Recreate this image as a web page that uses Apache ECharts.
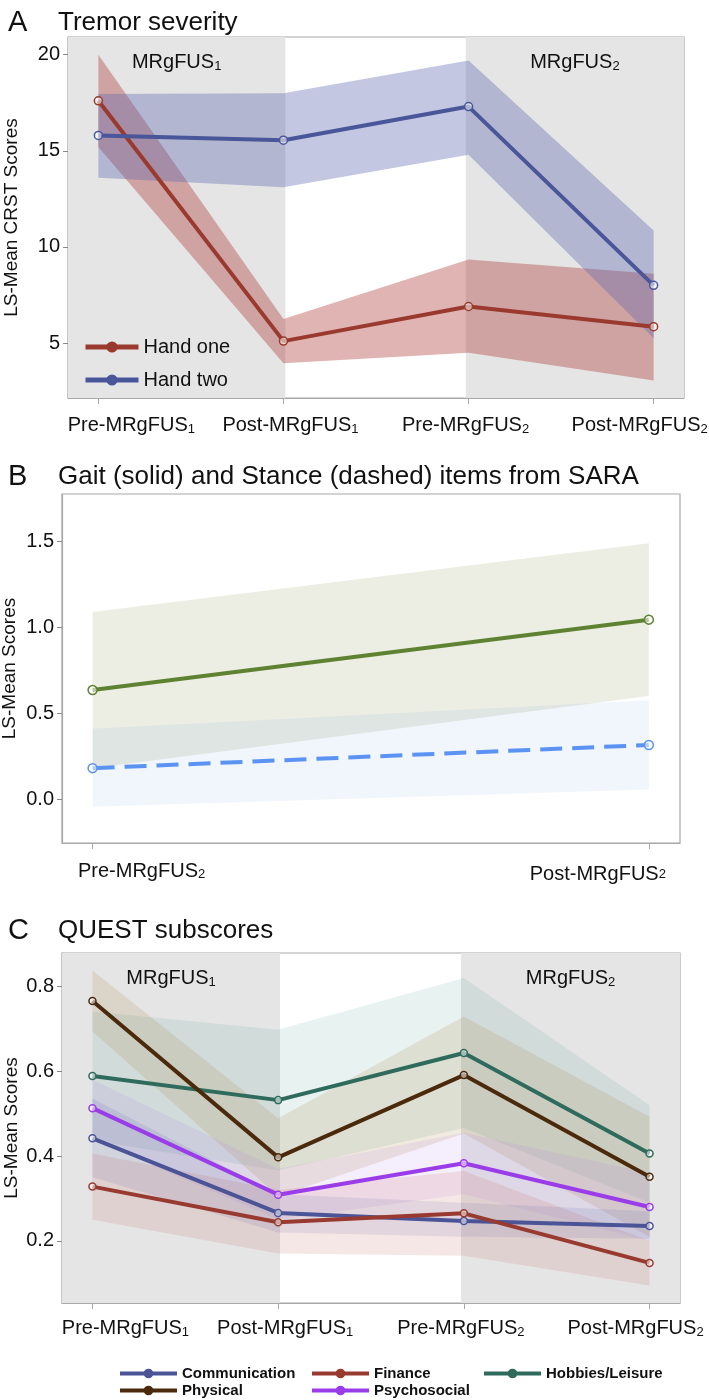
<!DOCTYPE html>
<html>
<head>
<meta charset="utf-8">
<script src="https://cdn.jsdelivr.net/npm/echarts@6/dist/echarts.min.js"></script>
<style>
  html, body { margin: 0; padding: 0; background: #fff; }
  #root { width: 709px; height: 1400px; }
</style>
</head>
<body>
<div id="root"></div>
<script>
// ---- panel A: tremor severity (CRST) ----
const visitsA = ["Pre-MRgFUS", "Post-MRgFUS", "Pre-MRgFUS", "Post-MRgFUS"];
const visitSubsA = ["1", "1", "2", "2"];
const xA = [0, 1, 2, 3];
const handOne = [17.6, 5.1, 6.9, 5.85];
const handOneLo = [15.2, 3.95, 4.5, 3.05];
const handOneHi = [20.0, 6.25, 9.35, 8.6];
const handTwo = [15.8, 15.55, 17.3, 8.0];
const handTwoLo = [13.6, 13.1, 14.8, 5.25];
const handTwoHi = [17.95, 18.0, 19.7, 10.85];
const ticksA = [5, 10, 15, 20];

// ---- panel B: SARA gait / stance ----
const visitsB = ["Pre-MRgFUS", "Post-MRgFUS"];
const visitSubsB = ["2", "2"];
const xB = [0, 1];
const gait = [0.635, 1.045];
const gaitLo = [0.18, 0.6];
const gaitHi = [1.09, 1.49];
const stance = [0.18, 0.315];
const stanceLo = [-0.045, 0.055];
const stanceHi = [0.41, 0.575];
const ticksB = [0, 0.5, 1.0, 1.5];

// ---- panel C: QUEST subscores ----
const comm = [0.442, 0.266, 0.247, 0.235];
const commLo = [0.35, 0.22, 0.21, 0.205];
const commHi = [0.536, 0.31, 0.29, 0.27];
const fin = [0.328, 0.244, 0.265, 0.148];
const finLo = [0.25, 0.17, 0.165, 0.095];
const finHi = [0.406, 0.32, 0.365, 0.2];
const hob = [0.589, 0.532, 0.643, 0.406];
const hobLo = [0.437, 0.366, 0.466, 0.29];
const hobHi = [0.741, 0.698, 0.82, 0.52];
const phys = [0.766, 0.397, 0.591, 0.351];
const physLo = [0.694, 0.305, 0.453, 0.21];
const physHi = [0.838, 0.489, 0.729, 0.493];
const psy = [0.513, 0.309, 0.383, 0.28];
const psyLo = [0.44, 0.25, 0.31, 0.2];
const psyHi = [0.58, 0.37, 0.455, 0.36];
const ticksC = [0.2, 0.4, 0.6, 0.8];

const FONT = "Liberation Sans, Arial, sans-serif";
const INK = "#111";
const BOX = "#a8a8a8";
const SHADE = "#e5e5e5";

const chart = echarts.init(document.getElementById("root"));

function pairs(xs, ys) {
  return xs.map((x, i) => [x, ys[i]]);
}

// confidence band: one polygon through the axis scales
function band(ax, xs, lo, hi, color) {
  return {
    type: "custom", xAxisIndex: ax, yAxisIndex: ax, silent: true, z: 2,
    data: xs.map((x, i) => [x, lo[i], hi[i]]),
    encode: { x: 0, y: [1, 2] },
    renderItem: (params, api) => {
      if (params.dataIndex !== 0) return;
      const top = xs.map((x, i) => api.coord([x, hi[i]]));
      const bot = xs.map((x, i) => api.coord([x, lo[i]])).reverse();
      return { type: "polygon", shape: { points: top.concat(bot) }, style: { fill: color } };
    }
  };
}

function mean(name, ax, xs, ys, color, size, extra) {
  return Object.assign({
    name: name, type: "line", xAxisIndex: ax, yAxisIndex: ax,
    data: pairs(xs, ys), symbol: "circle", symbolSize: size || 8,
    lineStyle: { color: color, width: 4 },
    itemStyle: { color: "rgba(255,255,255,0.55)", borderColor: color, borderWidth: 1.5 },
    z: 5
  }, extra || {});
}

function xAxisFor(ax, xs, bases, subs, shifts, drops, min, max, margin) {
  const rich = {};
  bases.forEach((b, i) => {
    const d = shifts[i];
    rich["b" + i] = { fontSize: 20, lineHeight: 22, color: INK, fontFamily: FONT,
      padding: [drops[i], 0, 0, d > 0 ? 2 * d : 0] };
    rich["s" + i] = { fontSize: 13, lineHeight: 14, verticalAlign: "bottom", color: INK, fontFamily: FONT,
      padding: [0, d < 0 ? -2 * d : 0, 0, 0] };
  });
  return {
    type: "value", gridIndex: ax, min: min, max: max,
    splitLine: { show: false },
    axisLine: { show: true, onZero: false, lineStyle: { color: BOX, width: 1.2 } },
    axisTick: { show: true, customValues: xs, length: 6, lineStyle: { color: BOX } },
    axisLabel: {
      customValues: xs, margin: margin,
      formatter: (v) => {
        const i = Math.round(v);
        return "{b" + i + "|" + bases[i] + "}{s" + i + "|" + subs[i] + "}";
      },
      rich: rich
    }
  };
}

function yAxisFor(ax, name, ticks, min, max, gap, fmt) {
  return {
    type: "value", gridIndex: ax, min: min, max: max,
    name: name, nameLocation: "middle", nameGap: gap, nameMoveOverlap: false,
    nameTextStyle: { fontSize: 19, color: INK, fontFamily: FONT },
    splitLine: { show: false },
    axisLine: { show: true, onZero: false, lineStyle: { color: BOX, width: 1.2 } },
    axisTick: { show: true, customValues: ticks, length: 5, lineStyle: { color: "#888" } },
    axisLabel: { customValues: ticks, fontSize: 20, color: INK, fontFamily: FONT, margin: 8,
      formatter: fmt || ((v) => String(v)) }
  };
}

function phaseLabel(sub) {
  return {
    show: true, position: "insideTop", distance: 14,
    formatter: "{m|MRgFUS}{s|" + sub + "}",
    rich: {
      m: { fontSize: 20, lineHeight: 22, color: INK, fontFamily: FONT },
      s: { fontSize: 13, lineHeight: 14, verticalAlign: "bottom", color: INK, fontFamily: FONT }
    }
  };
}

// invisible carrier line holding the grey phase shading
function phases(ax, xs, ys, a0, a1, b0, b1) {
  return {
    type: "line", xAxisIndex: ax, yAxisIndex: ax, silent: true, z: 1,
    data: pairs(xs, ys), symbol: "none", lineStyle: { opacity: 0 },
    markArea: {
      silent: true,
      itemStyle: { color: SHADE },
      data: [
        [{ xAxis: a0, label: phaseLabel("1") }, { xAxis: a1 }],
        [{ xAxis: b0, label: phaseLabel("2") }, { xAxis: b1 }]
      ]
    }
  };
}

function title(letter, text, top) {
  return {
    text: "{l|" + letter + "}{t|" + text + "}",
    left: 3, top: top,
    textStyle: {
      rich: {
        l: { fontSize: 29, color: INK, fontFamily: FONT, fontWeight: "normal", width: 50 },
        t: { fontSize: 26, color: INK, fontFamily: FONT, fontWeight: "normal" }
      }
    }
  };
}

const RED = "#9a3a2e";
const BLUE = "#4a569a";
const GREEN = "#5f8232";
const SKY = "#5b93f2";
const C_COMM = "#4a5497";
const C_FIN = "#983a2f";
const C_HOB = "#2f6b5d";
const C_PHYS = "#4b2a0b";
const C_PSY = "#9a3de8";

const minA = -0.164, maxA = 3.164;
const minB = -0.055, maxB = 1.056;

const series = [];
// panel A
series.push(phases(0, xA, handOne, minA, 1.01, 1.985, maxA));
series.push(band(0, xA, handOneLo, handOneHi, "rgba(172,48,48,0.36)"));
series.push(band(0, xA, handTwoLo, handTwoHi, "rgba(89,101,175,0.36)"));
series.push(mean("Hand one", 0, xA, handOne, RED));
series.push(mean("Hand two", 0, xA, handTwo, BLUE));
// panel B
series.push(band(1, xB, gaitLo, gaitHi, "rgba(120,135,60,0.14)"));
series.push(band(1, xB, stanceLo, stanceHi, "rgba(80,130,220,0.08)"));
series.push(mean("Gait", 1, xB, gait, GREEN, 9));
series.push(mean("Stance", 1, xB, stance, SKY, 9,
  { lineStyle: { color: SKY, width: 4, type: [22, 10] } }));
// panel C
series.push(phases(2, xA, hob, minA, 1.01, 1.985, maxA));
series.push(band(2, xA, hobLo, hobHi, "rgba(95,165,155,0.14)"));
series.push(band(2, xA, physLo, physHi, "rgba(175,140,80,0.18)"));
series.push(band(2, xA, psyLo, psyHi, "rgba(175,120,235,0.13)"));
series.push(band(2, xA, commLo, commHi, "rgba(80,90,170,0.13)"));
series.push(band(2, xA, finLo, finHi, "rgba(195,95,95,0.15)"));
series.push(mean("Hobbies/Leisure", 2, xA, hob, C_HOB, 7));
series.push(mean("Physical", 2, xA, phys, C_PHYS, 7));
series.push(mean("Psychosocial", 2, xA, psy, C_PSY, 7));
series.push(mean("Communication", 2, xA, comm, C_COMM, 7));
series.push(mean("Finance", 2, xA, fin, C_FIN, 7));

function legendItem(name, color) {
  return { name: name, itemStyle: { color: color, borderColor: color, borderWidth: 0 } };
}

function legendC(left, items) {
  return {
    orient: "vertical", left: left, top: 1361, height: 40, selectedMode: false,
    itemWidth: 57, itemHeight: 12, itemGap: 2,
    lineStyle: { width: 4 },
    textStyle: { fontSize: 15, fontWeight: "bold", color: INK, fontFamily: FONT },
    data: items
  };
}

const gridBase = { show: true, borderColor: BOX, borderWidth: 1.2, backgroundColor: "#fff", outerBoundsMode: "none" };

chart.setOption({
  animation: false,
  textStyle: { fontFamily: FONT, color: INK },
  title: [
    title("A", "Tremor severity", 3),
    title("B", "Gait (solid) and Stance (dashed) items from SARA", 457),
    title("C", "QUEST subscores", 911)
  ],
  grid: [
    Object.assign({ left: 68, right: 25, top: 37, height: 361 }, gridBase),
    Object.assign({ left: 62, right: 29, top: 494, height: 349 }, gridBase),
    Object.assign({ left: 62, right: 29, top: 953, height: 350 }, gridBase)
  ],
  xAxis: [
    xAxisFor(0, xA, visitsA, visitSubsA, [33, 7, -3, -14], [0, 0, 0, 0], minA, maxA, 16),
    xAxisFor(1, xB, visitsB, visitSubsB, [49, -51], [3, 9], minB, maxB, 16),
    xAxisFor(2, xA, visitsA, visitSubsA, [33, 7, -3, -14], [0, 0, 0, 0], minA, maxA, 14)
  ],
  yAxis: [
    yAxisFor(0, "LS-Mean CRST Scores", ticksA, 2.14, 20.92, 47),
    yAxisFor(1, "LS-Mean Scores", ticksB, -0.256, 1.777, 43, (v) => v.toFixed(1)),
    yAxisFor(2, "LS-Mean Scores", ticksC, 0.0535, 0.879, 41, (v) => v.toFixed(1))
  ],
  legend: [
    {
      orient: "vertical", left: 78, top: 332, selectedMode: false,
      itemWidth: 53, itemHeight: 14, itemGap: 13,
      lineStyle: { width: 5 },
      textStyle: { fontSize: 20, color: INK, fontFamily: FONT },
      data: [legendItem("Hand one", RED), legendItem("Hand two", BLUE)]
    },
    legendC(113, [legendItem("Communication", C_COMM), legendItem("Physical", C_PHYS)]),
    legendC(305, [legendItem("Finance", C_FIN), legendItem("Psychosocial", C_PSY)]),
    legendC(477, [legendItem("Hobbies/Leisure", C_HOB)])
  ],
  series: series
});
</script>
</body>
</html>
